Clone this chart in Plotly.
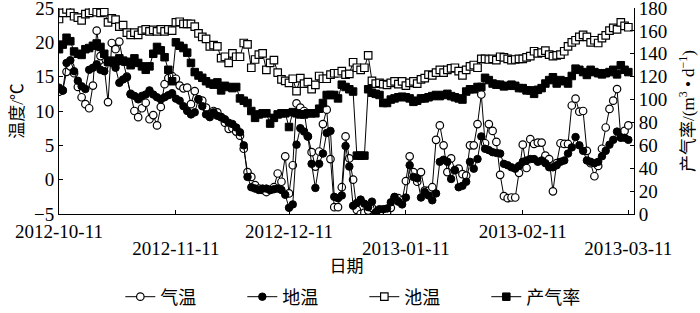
import pandas as pd
import plotly.graph_objects as go

start = "2012-10-11"
n_days = 152
dates = pd.date_range(start, periods=n_days, freq="D")

# 气温 (air temperature, °C)
air = [12.8, 13.0, 15.7, 16.5, 15.5, 13.5, 12.0, 11.0, 10.4, 13.7,
       21.7, 18.0, 16.5, 11.3, 19.9, 19.0, 20.1, 17.2, 15.0, 12.5,
       10.0, 9.1, 10.4, 11.2, 8.8, 9.4, 7.9, 10.6, 13.9, 14.8,
       15.1, 14.7, 13.7, 13.3, 13.4, 11.0, 12.9, 11.7, 11.5, 10.5,
       9.5, 10.0, 9.8, 9.1, 8.3, 7.4, 7.5, 7.0, 6.4, 4.5,
       1.1, 0.4, -0.8, -1.3, -1.5, -1.8, -1.5, -1.1, 0.9, -0.3,
       3.4, -2.0, 2.1, 11.1, 10.5, 10.0, 6.3, 4.0, 1.9, 4.1,
       8.1, 10.2, 3.0, -4.0, -4.0, -1.1, 6.3, 3.1, 0.0, -4.4,
       -5.0, -4.8, -4.5, -4.1, -4.8, -5.0, -5.0, -4.8, -4.1, -2.6,
       -2.7, -3.0, -0.2, 3.4, 1.1, -0.3, 1.1, -1.6, -1.6, -1.1,
       5.8, 7.9, 5.0, 1.1, 3.1, 1.4, 1.6, 0.8, 0.6, 5.0,
       5.0, 8.1, 12.4, 5.3, 8.1, 7.1, 5.5, 0.7, -2.4, -2.7,
       -2.6, -2.6, 1.0, 5.1, 1.7, 5.9, 5.2, 5.4, 5.4, 3.5,
       3.0, -1.7, 2.4, 5.3, 5.2, 5.2, 10.8, 11.8, 9.9, 10.0,
       4.2, 2.4, 0.5, 2.0, 4.5, 7.6, 10.3, 11.5, 13.2, 6.2,
       7.1, 7.9]

# 地温 (ground temperature, °C)
ground = [13.4, 13.0, 17.0, 17.4, 15.8, 14.4, 13.6, 13.2, 16.0, 16.3,
          16.8, 16.0, 15.8, 17.2, 17.0, 16.3, 14.1, 14.6, 14.9, 12.4,
          12.2, 11.7, 12.2, 12.4, 13.0, 12.4, 12.0, 11.7, 12.0, 12.3,
          12.6, 11.8, 11.5, 10.7, 10.0, 9.5, 9.8, 11.7, 10.7, 9.5,
          9.1, 9.8, 9.3, 9.1, 8.8, 8.3, 8.1, 7.6, 6.9, 5.0,
          0.4, -1.1, -1.3, -1.5, -1.3, -1.3, -1.5, -1.4, -1.3, -1.5,
          -2.2, -4.1, -3.6, 5.1, 7.5, 7.0, 6.3, 2.3, -1.2, 2.3,
          3.8, 6.8, 7.1, -2.5, -2.7, -2.3, 4.9, 1.9, -3.8, -3.4,
          -2.9, -3.5, -4.0, -3.2, -4.9, -4.3, -4.3, -4.2, -3.3, -2.5,
          -3.2, -3.6, -2.6, 2.1, 0.4, 0.2, -2.6, -1.8, -2.3, -3.0,
          -2.0, 2.6, 2.9, 2.6, 0.1, 1.4, -1.1, -0.9, -0.3, 2.6,
          1.6, 3.0, 6.3, 4.5, 4.3, 4.0, 3.9, 3.8, 2.3, 2.1,
          1.8, 1.6, 2.0, 2.6, 2.8, 3.0, 3.0, 2.6, 2.8, 2.4,
          1.8, 1.8, 2.1, 2.6, 2.8, 3.8, 4.7, 6.2, 5.0, 4.2,
          2.8, 2.6, 2.4, 2.6, 3.4, 4.2, 5.1, 5.8, 7.0, 6.1,
          6.1, 5.8]

# 池温 (pool temperature, °C)
pool = [23.4, 24.3, 24.8, 24.3, 23.8, 23.6, 23.2, 24.1, 24.3, 24.6,
        24.4, 24.3, 24.4, 22.9, 23.5, 23.3, 22.3, 22.5, 21.4, 21.1,
        21.4, 21.1, 21.7, 21.9, 21.6, 21.8, 21.6, 21.9, 21.6, 21.9,
        21.7, 22.9, 23.0, 22.7, 22.7, 22.7, 22.3, 21.3, 20.8, 20.5,
        19.4, 19.6, 19.4, 17.7, 17.9, 17.0, 18.4, 17.9, 17.9, 19.9,
        19.7, 16.3, 17.5, 18.2, 18.4, 16.0, 17.0, 17.4, 15.6, 14.6,
        14.4, 14.1, 14.7, 12.9, 14.8, 14.0, 14.2, 13.2, 13.8, 15.1,
        14.7, 14.7, 15.3, 15.5, 15.5, 15.8, 15.3, 15.4, 17.1, 16.3,
        16.0, 16.3, 18.1, 14.4, 14.0, 14.1, 13.9, 13.8, 14.1, 14.3,
        13.9, 14.3, 13.7, 14.1, 14.3, 14.0, 14.6, 14.8, 15.3, 15.2,
        15.6, 16.0, 15.6, 16.0, 16.2, 16.3, 15.8, 15.2, 16.0, 16.5,
        16.7, 16.3, 17.6, 17.6, 17.5, 17.6, 17.4, 17.9, 17.8, 17.6,
        17.4, 17.5, 17.6, 17.6, 17.8, 18.0, 18.7, 18.4, 18.5, 18.8,
        18.2, 18.0, 18.1, 18.2, 18.7, 19.4, 20.0, 20.3, 20.8, 21.1,
        20.8, 20.0, 20.3, 19.9, 20.6, 21.0, 21.7, 22.1, 21.9, 22.9,
        22.4, 22.2]

# 产气率 (gas production rate, m3/d)
gas = [144, 148, 154, 151, 142, 140, 139, 144, 145, 147,
       149, 146, 140, 133, 134, 133, 136, 134, 133, 130,
       136, 132, 129, 126, 129, 140, 146, 143, 137, 126,
       116, 150, 147, 145, 141, 132, 124, 121, 119, 116,
       114, 113, 115, 108, 112, 111, 110, 111, 101, 99,
       97, 90, 84, 87, 88, 88, 79, 84, 87, 88,
       88, 76, 89, 88, 87, 87, 88, 88, 88, 92,
       97, 104, 104, 104, 101, 113, 111, 109, 107, 51,
       51, 51, 109, 106, 105, 104, 97, 97, 100, 101,
       102, 102.5, 102, 101, 98, 99, 101, 101, 102, 103,
       104, 103, 104, 105, 103, 102, 101, 100, 107, 109,
       109, 111, 111, 119, 117, 114, 113, 113, 111.5, 112,
       113, 112, 110, 110, 108, 108, 105, 108.5, 110, 114,
       117, 119.5, 114, 117, 116, 114, 120.6, 127, 126, 124,
       121.5, 126, 124, 123, 122, 123, 124, 126, 122, 130,
       126, 124]

tick_row1 = ["2012-10-11", "2012-12-11", "2013-02-11"]
tick_row2 = ["2012-11-11", "2013-01-11", "2013-03-11"]

names = ["气温", "地温", "池温", "产气率"]

FONT = "Liberation Serif, Noto Sans CJK SC, serif"
TICK = 19

fig = go.Figure()
fig.add_trace(go.Scatter(x=dates, y=air, name=names[0], mode="lines+markers",
                         line=dict(color="black", width=1),
                         marker=dict(symbol="circle", size=7.5, color="white",
                                     line=dict(color="black", width=1.2))))
fig.add_trace(go.Scatter(x=dates, y=ground, name=names[1], mode="lines+markers",
                         line=dict(color="black", width=1),
                         marker=dict(symbol="circle", size=7.5, color="black",
                                     line=dict(color="black", width=1))))
fig.add_trace(go.Scatter(x=dates, y=pool, name=names[2], mode="lines+markers",
                         line=dict(color="black", width=1),
                         marker=dict(symbol="square", size=7.5, color="white",
                                     line=dict(color="black", width=1.2))))
fig.add_trace(go.Scatter(x=dates, y=gas, name=names[3], mode="lines+markers", yaxis="y2",
                         line=dict(color="black", width=1),
                         marker=dict(symbol="square", size=7.5, color="black",
                                     line=dict(color="black", width=1))))
# invisible trace to carry the second row of date tick labels
fig.add_trace(go.Scatter(x=[dates[0]], y=[None], xaxis="x2", showlegend=False,
                         hoverinfo="skip"))

xrange = ["2012-10-11", "2013-03-12 12:00"]

fig.update_layout(
    width=700, height=313,
    margin=dict(l=59, r=66, t=8, b=99, autoexpand=False),
    plot_bgcolor="white", paper_bgcolor="white",
    font=dict(family=FONT, size=17, color="black"),
    xaxis=dict(
        type="date", range=xrange,
        tickvals=tick_row1, ticktext=tick_row1,
        ticks="inside", ticklen=4, tickcolor="black",
        showline=True, linecolor="black", linewidth=1,
        showgrid=False, zeroline=False,
        tickfont=dict(family=FONT, size=TICK),
        ticklabelstandoff=0, ticklabeloverflow="allow",
        title=dict(text="日期", font=dict(family=FONT, size=17), standoff=19),
    ),
    xaxis2=dict(
        type="date", range=xrange, overlaying="x", matches="x", anchor="y", side="bottom",
        tickvals=tick_row2, ticktext=tick_row2,
        ticks="inside", ticklen=4, tickcolor="black",
        showline=False, showgrid=False, zeroline=False,
        tickfont=dict(family=FONT, size=TICK),
        ticklabelstandoff=21, ticklabeloverflow="allow",
    ),
    yaxis=dict(
        range=[-5, 25], dtick=5,
        ticks="inside", ticklen=4, tickcolor="black",
        showline=True, linecolor="black", linewidth=1,
        showgrid=False, zeroline=False,
        tickfont=dict(family=FONT, size=TICK), ticklabeloverflow="allow",
        title=dict(text="温度/℃", font=dict(family=FONT, size=17), standoff=6),
    ),
    yaxis2=dict(
        range=[0, 180], dtick=20, overlaying="y", side="right",
        ticks="inside", ticklen=4, tickcolor="black",
        showline=True, linecolor="black", linewidth=1,
        showgrid=False, zeroline=False,
        tickfont=dict(family=FONT, size=TICK), ticklabeloverflow="allow",
        title=dict(text="产气率/(m<sup>3</sup> • d<sup>−1</sup>)", font=dict(family=FONT, size=17), standoff=15),
    ),
    showlegend=True,
    legend=dict(orientation="h", x=0.531, xanchor="center", xref="paper",
                y=1 - 297 / 313, yanchor="middle", yref="container",
                font=dict(family=FONT, size=18), bgcolor="rgba(0,0,0,0)",
                traceorder="normal", itemwidth=30, entrywidth=77, entrywidthmode="pixels"),
)

fig.write_html("out.html")
